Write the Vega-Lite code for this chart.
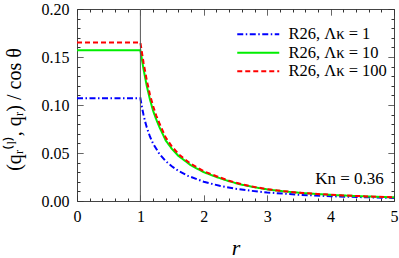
{
  "$schema": "https://vega.github.io/schema/vega-lite/v6.json",
  "autosize": "none",
  "width": 317,
  "height": 192,
  "padding": {"left": 77, "top": 9, "right": 5, "bottom": 57},
  "background": "white",
  "config": {
    "view": {"stroke": "#444", "strokeWidth": 1},
    "font": "Liberation Serif"
  },
  "datasets": {
    "curves": [
      {"r": 0, "q": 0.107, "k": "R26, Λκ = 1"},
      {"r": 1, "q": 0.107, "k": "R26, Λκ = 1"},
      {"r": 1.025, "q": 0.0975, "k": "R26, Λκ = 1"},
      {"r": 1.05, "q": 0.0896, "k": "R26, Λκ = 1"},
      {"r": 1.075, "q": 0.0826, "k": "R26, Λκ = 1"},
      {"r": 1.1, "q": 0.0768, "k": "R26, Λκ = 1"},
      {"r": 1.15, "q": 0.0672, "k": "R26, Λκ = 1"},
      {"r": 1.2, "q": 0.0598, "k": "R26, Λκ = 1"},
      {"r": 1.3, "q": 0.049, "k": "R26, Λκ = 1"},
      {"r": 1.4, "q": 0.0415, "k": "R26, Λκ = 1"},
      {"r": 1.5, "q": 0.0359, "k": "R26, Λκ = 1"},
      {"r": 1.6, "q": 0.0314, "k": "R26, Λκ = 1"},
      {"r": 1.75, "q": 0.0262, "k": "R26, Λκ = 1"},
      {"r": 2.0, "q": 0.02, "k": "R26, Λκ = 1"},
      {"r": 2.25, "q": 0.0158, "k": "R26, Λκ = 1"},
      {"r": 2.5, "q": 0.0128, "k": "R26, Λκ = 1"},
      {"r": 2.75, "q": 0.0106, "k": "R26, Λκ = 1"},
      {"r": 3.0, "q": 0.0089, "k": "R26, Λκ = 1"},
      {"r": 3.5, "q": 0.0065, "k": "R26, Λκ = 1"},
      {"r": 4.0, "q": 0.005, "k": "R26, Λκ = 1"},
      {"r": 4.5, "q": 0.004, "k": "R26, Λκ = 1"},
      {"r": 5.0, "q": 0.0032, "k": "R26, Λκ = 1"},

      {"r": 0, "q": 0.157, "k": "R26, Λκ = 10"},
      {"r": 1, "q": 0.157, "k": "R26, Λκ = 10"},
      {"r": 1.05, "q": 0.137, "k": "R26, Λκ = 10"},
      {"r": 1.1, "q": 0.12, "k": "R26, Λκ = 10"},
      {"r": 1.15, "q": 0.106, "k": "R26, Λκ = 10"},
      {"r": 1.2, "q": 0.094, "k": "R26, Λκ = 10"},
      {"r": 1.25, "q": 0.085, "k": "R26, Λκ = 10"},
      {"r": 1.3, "q": 0.077, "k": "R26, Λκ = 10"},
      {"r": 1.4, "q": 0.063, "k": "R26, Λκ = 10"},
      {"r": 1.5, "q": 0.054, "k": "R26, Λκ = 10"},
      {"r": 1.6, "q": 0.047, "k": "R26, Λκ = 10"},
      {"r": 1.7, "q": 0.042, "k": "R26, Λκ = 10"},
      {"r": 1.8, "q": 0.037, "k": "R26, Λκ = 10"},
      {"r": 1.9, "q": 0.0335, "k": "R26, Λκ = 10"},
      {"r": 2.0, "q": 0.03, "k": "R26, Λκ = 10"},
      {"r": 2.2, "q": 0.025, "k": "R26, Λκ = 10"},
      {"r": 2.4, "q": 0.0205, "k": "R26, Λκ = 10"},
      {"r": 2.6, "q": 0.017, "k": "R26, Λκ = 10"},
      {"r": 2.8, "q": 0.0143, "k": "R26, Λκ = 10"},
      {"r": 3.0, "q": 0.0121, "k": "R26, Λκ = 10"},
      {"r": 3.25, "q": 0.0101, "k": "R26, Λκ = 10"},
      {"r": 3.5, "q": 0.0086, "k": "R26, Λκ = 10"},
      {"r": 3.75, "q": 0.0074, "k": "R26, Λκ = 10"},
      {"r": 4.0, "q": 0.0064, "k": "R26, Λκ = 10"},
      {"r": 4.25, "q": 0.0056, "k": "R26, Λκ = 10"},
      {"r": 4.5, "q": 0.0049, "k": "R26, Λκ = 10"},
      {"r": 4.75, "q": 0.0043, "k": "R26, Λκ = 10"},
      {"r": 5.0, "q": 0.0038, "k": "R26, Λκ = 10"},

      {"r": 0, "q": 0.165, "k": "R26, Λκ = 100"},
      {"r": 1, "q": 0.165, "k": "R26, Λκ = 100"},
      {"r": 1.05, "q": 0.144, "k": "R26, Λκ = 100"},
      {"r": 1.1, "q": 0.126, "k": "R26, Λκ = 100"},
      {"r": 1.15, "q": 0.111, "k": "R26, Λκ = 100"},
      {"r": 1.2, "q": 0.099, "k": "R26, Λκ = 100"},
      {"r": 1.25, "q": 0.089, "k": "R26, Λκ = 100"},
      {"r": 1.3, "q": 0.081, "k": "R26, Λκ = 100"},
      {"r": 1.4, "q": 0.066, "k": "R26, Λκ = 100"},
      {"r": 1.5, "q": 0.0565, "k": "R26, Λκ = 100"},
      {"r": 1.6, "q": 0.049, "k": "R26, Λκ = 100"},
      {"r": 1.7, "q": 0.0435, "k": "R26, Λκ = 100"},
      {"r": 1.8, "q": 0.0385, "k": "R26, Λκ = 100"},
      {"r": 1.9, "q": 0.0347, "k": "R26, Λκ = 100"},
      {"r": 2.0, "q": 0.031, "k": "R26, Λκ = 100"},
      {"r": 2.2, "q": 0.0258, "k": "R26, Λκ = 100"},
      {"r": 2.4, "q": 0.0211, "k": "R26, Λκ = 100"},
      {"r": 2.6, "q": 0.0174, "k": "R26, Λκ = 100"},
      {"r": 2.8, "q": 0.0146, "k": "R26, Λκ = 100"},
      {"r": 3.0, "q": 0.0123, "k": "R26, Λκ = 100"},
      {"r": 3.25, "q": 0.0103, "k": "R26, Λκ = 100"},
      {"r": 3.5, "q": 0.0087, "k": "R26, Λκ = 100"},
      {"r": 3.75, "q": 0.0075, "k": "R26, Λκ = 100"},
      {"r": 4.0, "q": 0.0065, "k": "R26, Λκ = 100"},
      {"r": 4.25, "q": 0.0057, "k": "R26, Λκ = 100"},
      {"r": 4.5, "q": 0.005, "k": "R26, Λκ = 100"},
      {"r": 4.75, "q": 0.0044, "k": "R26, Λκ = 100"},
      {"r": 5.0, "q": 0.0039, "k": "R26, Λκ = 100"}
    ],
    "wall": [{"r": 1}],
    "note": [{"r": 4.84, "q": 0.0228, "t": "Kn = 0.36"}]
  },
  "resolve": {"axis": {"x": "independent", "y": "independent"}},
  "layer": [
    {
      "data": {"name": "curves"},
      "mark": {"type": "line", "strokeWidth": 2, "clip": true},
      "encoding": {
        "x": {
          "field": "r", "type": "quantitative",
          "scale": {"domain": [0, 5], "nice": false, "zero": false},
          "axis": {
            "orient": "bottom",
            "values": [0,0.2,0.4,0.6,0.8,1,1.2,1.4,1.6,1.8,2,2.2,2.4,2.6,2.8,3,3.2,3.4,3.6,3.8,4,4.2,4.4,4.6,4.8,5],
            "labelExpr": "abs(datum.value - round(datum.value)) < 1e-6 ? format(datum.value, 'd') : ''",
            "ticks": true,
            "tickSize": -6,
            "tickDash": {"condition": {"test": "abs(datum.value - round(datum.value)) < 1e-6", "value": [1, 0]}, "value": [3, 20]},
            "tickColor": "#333", "tickWidth": 1,
            "labelOverlap": false, "labelFlush": false,
            "grid": false, "domain": false,
            "labelFont": "Liberation Serif", "labelFontSize": 16, "labelColor": "#000",
            "labelPadding": 13,
            "title": "r",
            "titleFont": "Liberation Serif", "titleFontSize": 22, "titleFontStyle": "italic", "titleFontWeight": "normal",
            "titleColor": "#000",
            "titleBaseline": "alphabetic",
            "titleY": 53
          }
        },
        "y": {
          "field": "q", "type": "quantitative",
          "scale": {"domain": [0, 0.2], "nice": false, "zero": false},
          "axis": {
            "orient": "left",
            "values": [0,0.01,0.02,0.03,0.04,0.05,0.06,0.07,0.08,0.09,0.1,0.11,0.12,0.13,0.14,0.15,0.16,0.17,0.18,0.19,0.2],
            "labelExpr": "abs(datum.value*20 - round(datum.value*20)) < 1e-6 ? format(datum.value, '.2f') : ''",
            "ticks": true,
            "tickSize": -6,
            "tickDash": {"condition": {"test": "abs(datum.value*20 - round(datum.value*20)) < 1e-6", "value": [1, 0]}, "value": [3, 20]},
            "tickColor": "#333", "tickWidth": 1,
            "labelOverlap": false, "labelFlush": false,
            "grid": false, "domain": false,
            "labelFont": "Liberation Serif", "labelFontSize": 16, "labelColor": "#000",
            "labelPadding": 14,
            "title": "(qᵣ⁽ˡ⁾, qᵣ) / cos θ",
            "titleFont": "Liberation Serif", "titleFontSize": 20, "titleFontWeight": "normal",
            "titleColor": "#000",
            "titleX": -53, "titleY": 100, "titleAngle": -90, "titleAlign": "center", "titleBaseline": "bottom"
          }
        },
        "color": {
          "field": "k", "type": "nominal",
          "scale": {"domain": ["R26, Λκ = 1", "R26, Λκ = 10", "R26, Λκ = 100"], "range": ["#0000ff", "#00ee00", "#ff0000"]},
          "legend": {
            "title": null, "orient": "none", "legendX": 173, "legendY": 17,
            "symbolType": "M-3,0H3", "symbolSize": 196, "symbolStrokeWidth": 2,
            "labelFont": "Liberation Serif", "labelFontSize": 16.5, "labelColor": "#000",
            "labelOffset": 22, "rowPadding": 1.5, "padding": 0, "labelLimit": 300
          }
        },
        "strokeDash": {
          "field": "k", "type": "nominal",
          "scale": {"domain": ["R26, Λκ = 1", "R26, Λκ = 10", "R26, Λκ = 100"], "range": [[6, 2.5, 1.5, 2.5], [1, 0], [5, 3]]},
          "legend": {
            "title": null, "orient": "none", "legendX": 173, "legendY": 17,
            "symbolType": "M-3,0H3", "symbolSize": 196, "symbolStrokeWidth": 2,
            "labelFont": "Liberation Serif", "labelFontSize": 16.5, "labelColor": "#000",
            "labelOffset": 22, "rowPadding": 1.5, "padding": 0, "labelLimit": 300
          }
        }
      }
    },
    {
      "data": {"name": "wall"},
      "mark": {"type": "rule", "color": "#555", "strokeWidth": 1},
      "encoding": {
        "x": {
          "field": "r", "type": "quantitative",
          "axis": {
            "orient": "top",
            "values": [0,0.2,0.4,0.6,0.8,1,1.2,1.4,1.6,1.8,2,2.2,2.4,2.6,2.8,3,3.2,3.4,3.6,3.8,4,4.2,4.4,4.6,4.8,5],
            "labels": false, "title": null, "grid": false, "domain": false,
            "ticks": true,
            "tickColor": "#333", "tickWidth": 1,
            "tickSize": -6,
            "tickDash": {"condition": {"test": "abs(datum.value - round(datum.value)) < 1e-6", "value": [1, 0]}, "value": [3, 20]}
          }
        },
        "y": {
          "datum": 0, "type": "quantitative",
          "axis": {
            "orient": "right",
            "values": [0,0.01,0.02,0.03,0.04,0.05,0.06,0.07,0.08,0.09,0.1,0.11,0.12,0.13,0.14,0.15,0.16,0.17,0.18,0.19,0.2],
            "labels": false, "title": null, "grid": false, "domain": false,
            "ticks": true,
            "tickColor": "#333", "tickWidth": 1,
            "tickSize": -6,
            "tickDash": {"condition": {"test": "abs(datum.value*20 - round(datum.value*20)) < 1e-6", "value": [1, 0]}, "value": [3, 20]}
          }
        },
        "y2": {"datum": 0.2}
      }
    },
    {
      "data": {"name": "note"},
      "mark": {"type": "text", "align": "right", "baseline": "middle", "font": "Liberation Serif", "fontSize": 17, "color": "#000"},
      "encoding": {
        "x": {"field": "r", "type": "quantitative", "axis": null},
        "y": {"field": "q", "type": "quantitative", "axis": null},
        "text": {"field": "t"}
      }
    }
  ]
}
